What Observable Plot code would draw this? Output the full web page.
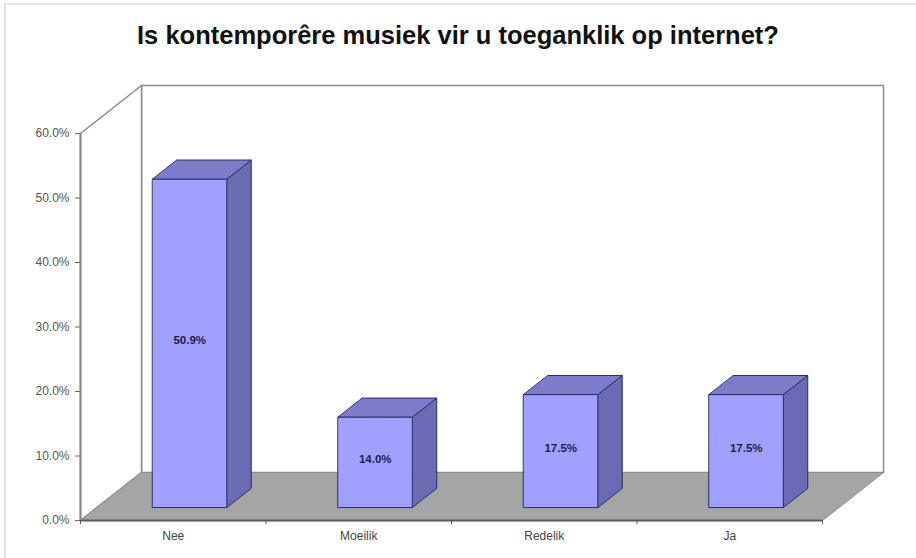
<!DOCTYPE html>
<html>
<head>
<meta charset="utf-8">
<script src="https://cdn.jsdelivr.net/npm/d3@7"></script>
<script src="https://cdn.jsdelivr.net/npm/@observablehq/plot@0.6"></script>
<style>
  html, body { margin: 0; padding: 0; background: #fff; }
  #wrap { position: relative; width: 916px; height: 558px; overflow: hidden; font-family: "Liberation Sans", Arial, sans-serif; }
  #frame { position: absolute; left: 4px; top: 3px; width: 920px; height: 600px; border-top: 2px solid #e2e2e2; border-left: 2px solid #e2e2e2; }
  #title { position: absolute; left: 0; top: 0; width: 916px; height: 60px; text-align: center; font-weight: bold; font-size: 25.5px; line-height: 26px; padding-top: 22px; box-sizing: border-box; color: #111; }
  #chart { position: absolute; left: 0; top: 60px; }
</style>
</head>
<body>
<div id="wrap">
  <div id="frame"></div>
  <div id="title">Is kontemporêre musiek vir u toeganklik op internet?</div>
  <div id="chart"></div>
</div>
<script>
// ---- data ----
const categories = ["Nee", "Moeilik", "Redelik", "Ja"];
const values = [50.9, 14.0, 17.5, 17.5];
const valueLabels = ["50.9%", "14.0%", "17.5%", "17.5%"];
const yTicks = [0, 10, 20, 30, 40, 50, 60];
const yMax = 60;

// ---- 3D projection helpers (depth expressed in data units) ----
const DX = 0.329;   // full depth shift along x (category band units)
const DY = 7.44;    // full depth shift along y (percent units)
const dFront = 0.27, dBack = 0.67; // bar depth placement
const halfW = 0.2;  // half bar width in band units
const P = (id, b, v, d) => ({id, x: b + d * DX, y: v + d * DY});

const n = categories.length;
const backWall = [P("bw",0,0,1), P("bw",n,0,1), P("bw",n,yMax,1), P("bw",0,yMax,1)];
const leftWall = [P("lw",0,0,0), P("lw",0,0,1), P("lw",0,yMax,1), P("lw",0,yMax,0)];
const floor = [P("fl",0,0,0), P("fl",n,0,0), P("fl",n,0,1), P("fl",0,0,1)];

const fronts = [], sides = [], tops = [], labels = [];
values.forEach((v, i) => {
  const L = i + 0.5 - halfW, R = i + 0.5 + halfW;
  fronts.push(P("f"+i,L,0,dFront), P("f"+i,R,0,dFront), P("f"+i,R,v,dFront), P("f"+i,L,v,dFront));
  sides.push(P("s"+i,R,0,dFront), P("s"+i,R,0,dBack), P("s"+i,R,v,dBack), P("s"+i,R,v,dFront));
  tops.push(P("t"+i,L,v,dFront), P("t"+i,R,v,dFront), P("t"+i,R,v,dBack), P("t"+i,L,v,dBack));
  labels.push({x: i + 0.5 + dFront * DX, y: v / 2 + dFront * DY, text: valueLabels[i]});
});
const catData = categories.map((c, i) => ({x: i + 0.5, y: 0, text: c}));

const poly = (data, fill, stroke, sw = 1) => Plot.line(data, {x: "x", y: "y", z: "id", fill, stroke, strokeWidth: sw, curve: "linear-closed"});

const chart = Plot.plot({
  width: 916,
  height: 498,
  marginLeft: 80,
  marginRight: 94,
  marginTop: 73,
  marginBottom: 38,
  style: {fontFamily: "'Liberation Sans', Arial, sans-serif", background: "transparent", overflow: "visible"},
  x: {domain: [0, n], axis: null},
  y: {domain: [0, yMax], axis: null},
  marks: [
    poly(backWall, "#ffffff", "#8a8a8a", 1.5),
    poly(leftWall, "#ffffff", "#8a8a8a", 1.5),
    poly(floor, "#a5a5a5", "#8a8a8a", 1),
    Plot.ruleY([0], {x1: 0, x2: n, stroke: "#5a5a5a", strokeWidth: 2}),
    Plot.ruleX([0], {y1: 0, y2: yMax, stroke: "#8a8a8a", strokeWidth: 2}),
    Plot.axisY({ticks: yTicks, tickFormat: d => d.toFixed(1) + "%", tickSize: 5, tickPadding: 6, fontSize: 12, color: "#555", stroke: "#666", label: null}),
    Plot.axisX({ticks: [0, 1, 2, 3, 4], tickSize: 4, tickFormat: () => "", stroke: "#555", label: null}),
    poly(sides, "#6b6bb4", "#2c2c66", 1),
    poly(tops, "#7c7ccb", "#2c2c66", 1),
    poly(fronts, "#a0a0ff", "#2c2c66", 1),
    Plot.text(labels, {x: "x", y: "y", text: "text", dy: -3, fontSize: 11.5, fontWeight: "bold", fill: "#1c1c50"}),
    Plot.text(catData, {x: "x", y: "y", text: "text", dy: 16, fontSize: 12, fill: "#444"})
  ]
});
document.getElementById("chart").appendChild(chart);
</script>
</body>
</html>
